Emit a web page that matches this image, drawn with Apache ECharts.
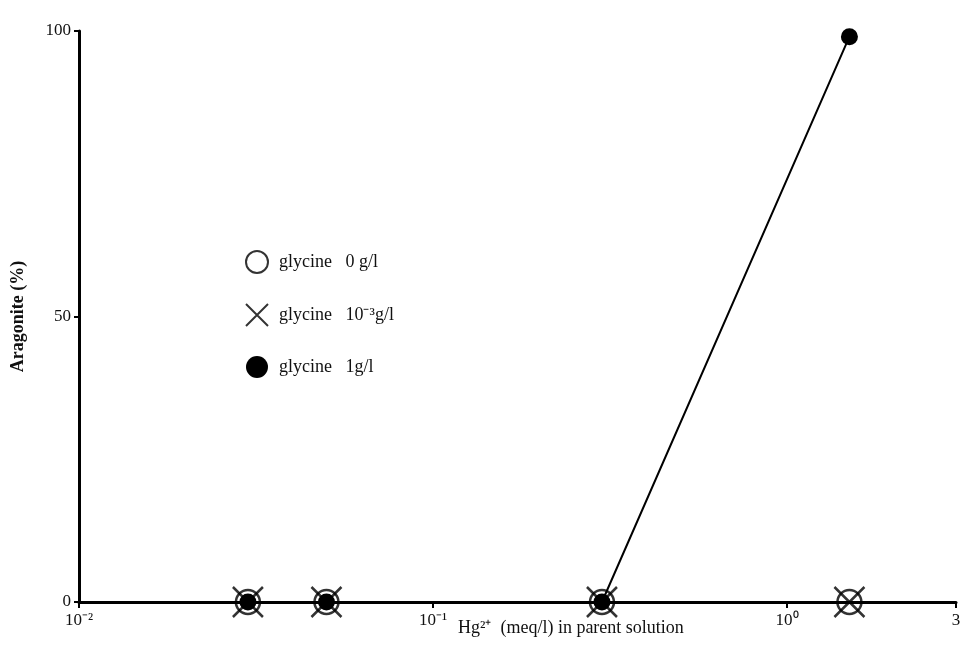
<!DOCTYPE html>
<html>
<head>
<meta charset="utf-8">
<script src="https://cdn.jsdelivr.net/npm/echarts@6/dist/echarts.min.js"></script>
<style>html,body{margin:0;padding:0;background:#fff}#c{width:967px;height:645px}</style>
</head>
<body>
<div id="c"></div>
<script>
const xValues = [0.03, 0.05, 0.3, 1.5];
const glycine0 = [0, 0, 0, 0];
const glycine1e3 = [0, 0, 0, 0];
const glycine1 = [0, 0, 0, 99];
const seriesNames = ['glycine   0 g/l', 'glycine   10⁻³g/l', 'glycine   1g/l'];
const xTicks = [0.01, 0.1, 1, 3];
const xTickLabels = ['10⁻²', '10⁻¹', '10⁰', '3'];
const yTicks = [0, 50, 100];

const pairs = arr => xValues.map((x, i) => [x, arr[i]]);
const serif = 'Liberation Serif';
const crossPath = 'path://M0,0 L10,10 M10,0 L0,10';

const chart = echarts.init(document.getElementById('c'));
chart.setOption({
  animation: false,
  backgroundColor: '#fff',
  grid: {left: 79, right: 11, top: 31, bottom: 43, containLabel: false},
  legend: {
    orient: 'vertical', left: 240, top: 245, itemGap: 29, itemWidth: 22, itemHeight: 22,
    textStyle: {fontFamily: serif, fontSize: 18, color: '#111', padding: [0, 0, 0, 6]},
    data: [
      {name: seriesNames[0]},
      {name: seriesNames[1]},
      {name: seriesNames[2], icon: 'path://M5,0 A5,5 0 1,1 4.99,0 Z', itemStyle: {color: '#000'}}
    ]
  },
  xAxis: {
    type: 'log', logBase: 10, min: 0.01, max: 3,
    axisLine: {show: true, onZero: false, lineStyle: {color: '#000', width: 3}},
    axisTick: {show: true, customValues: xTicks, length: 6, lineStyle: {color: '#000', width: 2}},
    axisLabel: {show: true, customValues: xTicks, fontFamily: serif, fontSize: 17, color: '#111', margin: 10,
      formatter: v => { const i = xTicks.findIndex(t => Math.abs(t - v) / t < 1e-6); return i >= 0 ? xTickLabels[i] : ''; }},
    splitLine: {show: false}, minorTick: {show: false}
  },
  yAxis: {
    type: 'value', min: 0, max: 100, interval: 50,
    name: 'Aragonite (%)', nameLocation: 'middle', nameGap: 52, nameRotate: 90,
    nameTextStyle: {fontFamily: serif, fontSize: 18, fontWeight: 'bold', color: '#111'},
    axisLine: {show: true, lineStyle: {color: '#000', width: 3}},
    axisTick: {show: true, length: 5, lineStyle: {color: '#000', width: 2}},
    axisLabel: {fontFamily: serif, fontSize: 17, color: '#111', margin: 8},
    splitLine: {show: false}
  },
  graphic: [{
    type: 'text', left: 458, top: 619,
    style: {text: 'Hg²⁺  (meq/l) in parent solution', fontFamily: serif, fontSize: 18, fill: '#111'}
  }],
  series: [
    {
      name: seriesNames[2], type: 'line', data: pairs(glycine1), symbol: 'circle', symbolSize: 17,
      lineStyle: {color: '#000', width: 2}, itemStyle: {color: '#000'}, z: 3
    },
    {
      name: seriesNames[0], type: 'scatter', data: pairs(glycine0), symbol: 'circle', symbolSize: 24,
      itemStyle: {color: 'rgba(0,0,0,0)', borderColor: '#000', borderWidth: 2.5}, z: 4
    },
    {
      name: seriesNames[1], type: 'scatter', data: pairs(glycine1e3), symbol: crossPath, symbolSize: 30,
      itemStyle: {color: 'rgba(0,0,0,0)', borderColor: '#000', borderWidth: 2.5}, z: 5
    }
  ]
});
</script>
</body>
</html>
